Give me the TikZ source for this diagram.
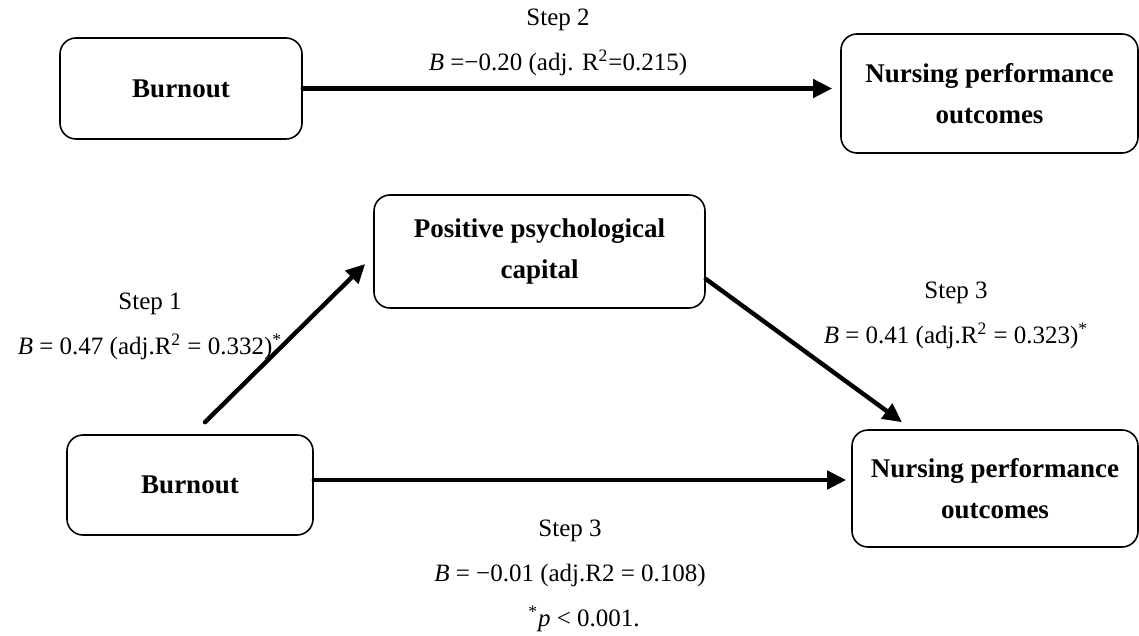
\documentclass[tikz,border=0pt]{standalone}
\usepackage{fontspec}
\setmainfont{Liberation Serif}
\usetikzlibrary{arrows.meta,positioning}
\tikzset{
  varbox/.style={draw,line width=0.8pt,rounded corners=8pt,align=center,inner sep=0pt,font=\fontsize{13.5}{20.5}\selectfont\bfseries},
  steplbl/.style={align=center,inner sep=0pt,font=\fontsize{12.5}{22.5}\selectfont},
  effect/.style={line width=2.2pt,-{Triangle[length=9.5pt,width=9pt]}}
}

\begin{document}
\begin{tikzpicture}[line cap=round,line join=round,x=0.5pt,y=-0.5pt]
    \useasboundingbox (0,0) rectangle (1139,636);
    \node[varbox,minimum width=121pt,minimum height=50.5pt] (b1) at (181,88.5) {Burnout};
    \node[varbox,minimum width=148.5pt,minimum height=59.5pt] (n1) at (989.5,93.5) {Nursing performance\\outcomes};
    \node[varbox,minimum width=165.5pt,minimum height=56.5pt] (pc) at (539.5,251.5) {Positive psychological\\capital};
    \node[varbox,minimum width=123pt,minimum height=50pt] (b2) at (190,485) {Burnout};
    \node[varbox,minimum width=143pt,minimum height=58.5pt] (n2) at (995,488.5) {Nursing performance\\outcomes};
    \draw [effect,shorten >=4pt] (b1.east) -- (b1.east -| n1.west);
    \draw [effect] ([xshift=7.5pt,yshift=6pt]b2.north) -- ([xshift=-4pt,yshift=-6.25pt]pc.west);
    \draw [effect] ([yshift=-13.75pt]pc.east) -- ([xshift=-46.5pt,yshift=3.5pt]n2.north);
    \draw [effect,shorten >=2.5pt] ([yshift=2.5pt]b2.east) -- ([yshift=2.5pt]b2.east -| n2.west);
    \node[steplbl] (l2) at (558,42) {Step 2\\\textit{B} =−0.20 (adj. R\textsuperscript{2}=0.215)};
    \node[steplbl] (l1) at (150,326) {Step 1\\\textit{B} = 0.47 (adj.R\textsuperscript{2} = 0.332)\textsuperscript{*}};
    \node[steplbl] (l3) at (956,315) {Step 3\\\textit{B} = 0.41 (adj.R\textsuperscript{2} = 0.323)\textsuperscript{*}};
    \node[steplbl] (l4) at (570,553) {Step 3\\\textit{B} = −0.01 (adj.R2 = 0.108)};
    \node[steplbl] (note) at (584,619) {\textsuperscript{*}\textit{p} < 0.001.};
\end{tikzpicture}
\end{document}
